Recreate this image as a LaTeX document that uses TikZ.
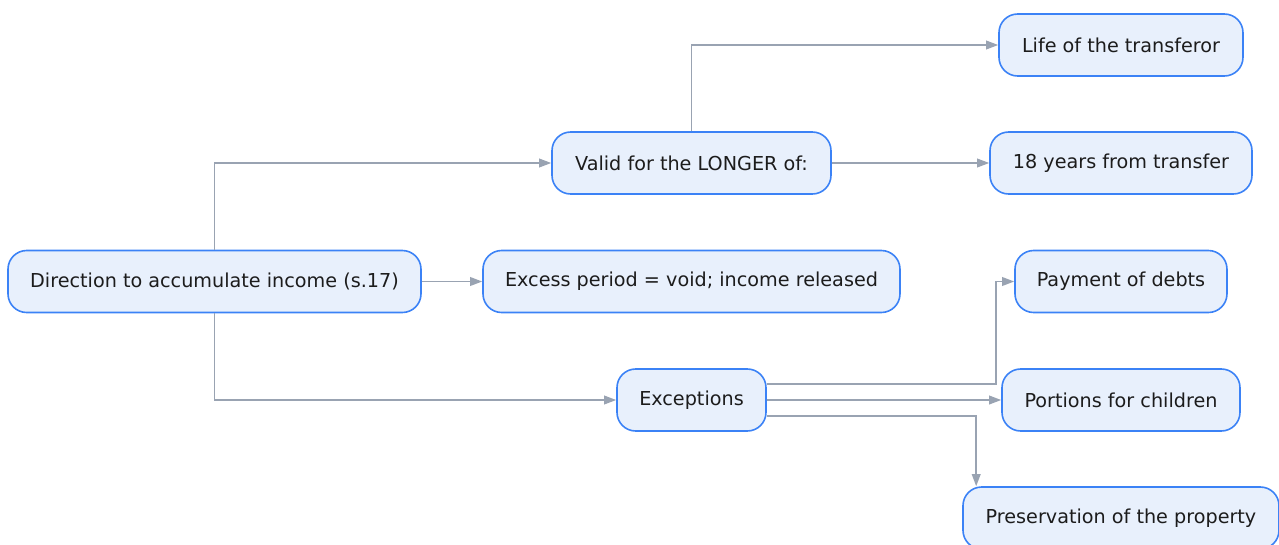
\documentclass[tikz,border=0pt]{standalone}
\usepackage{fontspec}
\setmainfont{DejaVu Sans}
\usetikzlibrary{arrows.meta,calc}
\definecolor{boxfill}{HTML}{E8F0FC}
\definecolor{boxline}{HTML}{3B82F6}
\definecolor{edgegray}{HTML}{99A3B2}
\definecolor{ink}{HTML}{1C1C1C}
\begin{document}
\begin{tikzpicture}[x=0.75pt,y=-0.75pt,
  box/.style={draw=boxline, fill=boxfill, line width=1.2pt, rounded corners=14pt,
    minimum height=46.5pt, inner xsep=0pt, text=ink, font=\fontsize{14.4}{16}\selectfont},
  edge/.style={draw=edgegray, line width=1.1pt, -{Triangle[length=9pt,width=6.5pt]}}]
\useasboundingbox (0,0) rectangle (1279,544);

% nodes
\node[box, minimum width=309.75pt] (dir)  at (214.5,281.5) {Direction to accumulate income (s.17)};
\node[box, minimum width=209.25pt] (valid) at (691.5,163) {Valid for the LONGER of:};
\node[box, minimum width=312.75pt] (excess) at (691.5,281.5) {Excess period = void; income released};
\node[box, minimum width=111.75pt] (exc)  at (691.5,400) {Exceptions};
\node[box, minimum width=183pt]    (life) at (1121,45) {Life of the transferor};
\node[box, minimum width=196.5pt]  (yrs)  at (1121,163) {18 years from transfer};
\node[box, minimum width=159pt]    (pay)  at (1121,281.5) {Payment of debts};
\node[box, minimum width=178.5pt]  (por)  at (1121,400) {Portions for children};
\node[box, minimum width=237pt]    (pres) at (1121,518) {Preservation of the property};

% connectors
\draw[edge] (dir.north) |- (valid.west);
\draw[edge] (dir.east) -- (excess.west);
\draw[edge] (dir.south) |- (exc.west);
\draw[edge] (valid.north) |- (life.west);
\draw[edge] (valid.east) -- (yrs.west);
\draw[edge] ($(exc.east)+(0,-16)$) -| ($(pay.west)+(-18,0)$) -- (pay.west);
\draw[edge] (exc.east) -- (por.west);
\draw[edge] ($(exc.east)+(0,16)$) -| ($(pres.north west)+(14,0)$);
\end{tikzpicture}
\end{document}
